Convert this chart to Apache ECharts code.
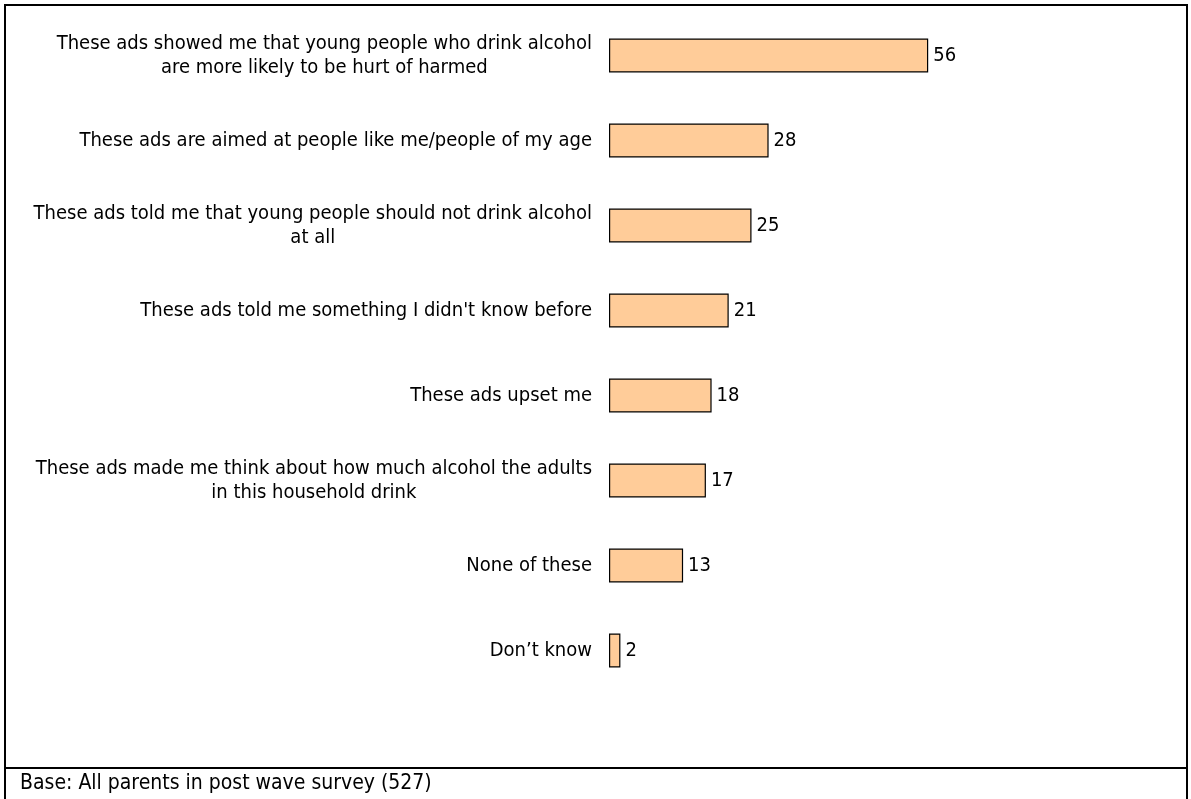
<!DOCTYPE html>
<html>
<head>
<meta charset="utf-8">
<script src="https://cdn.jsdelivr.net/npm/echarts@6/dist/echarts.min.js"></script>
<style>
  html, body { margin: 0; padding: 0; background: #fff; }
  #chart { width: 1191px; height: 799px; }
</style>
</head>
<body>
<div id="chart"></div>
<script>
// Statements shown to parents, top to bottom
const categories = [
  "These ads showed me that young people who drink alcohol\nare more likely to be hurt of harmed",
  "These ads are aimed at people like me/people of my age",
  "These ads told me that young people should not drink alcohol\nat all",
  "These ads told me something I didn't know before",
  "These ads upset me",
  "These ads made me think about how much alcohol the adults\nin this household drink",
  "None of these",
  "Don\u2019t know"
];
// Percentage agreeing with each statement
const values = [56, 28, 25, 21, 18, 17, 13, 2];
const footnote = "Base: All parents in post wave survey (527)";

const FONT = "'DejaVu Sans Condensed', 'DejaVu Sans', sans-serif";

const chart = echarts.init(document.getElementById('chart'), null, { renderer: 'canvas' });

chart.setOption({
  backgroundColor: '#ffffff',
  animation: false,
  grid: { left: 609, right: 12, top: 13, bottom: 106, containLabel: false },
  xAxis: {
    type: 'value',
    min: 0,
    max: 100,
    show: false
  },
  yAxis: {
    type: 'category',
    inverse: true,
    data: categories,
    axisLine: { show: false },
    axisTick: { show: false },
    splitLine: { show: false },
    axisLabel: {
      margin: 17,
      color: '#000',
      fontFamily: FONT,
      fontSize: 20,
      lineHeight: 24,
      // each line centred inside the right-aligned label block
      formatter: function (v) {
        return v.split('\n').map(function (l) { return '{c|' + l + '}'; }).join('\n');
      },
      rich: {
        c: { align: 'center', color: '#000', fontFamily: FONT, fontSize: 20, lineHeight: 24 }
      }
    }
  },
  series: [{
    type: 'bar',
    data: values,
    barWidth: 34,
    itemStyle: { color: '#FFCC99', borderColor: '#000', borderWidth: 1.2 },
    label: {
      show: true,
      position: 'right',
      distance: 5,
      color: '#000',
      fontFamily: FONT,
      fontSize: 20
    }
  }],
  graphic: [
    {
      type: 'rect',
      shape: { x: 5, y: 5, width: 1182, height: 800 },
      style: { fill: 'none', stroke: '#000', lineWidth: 2 },
      silent: true
    },
    {
      type: 'line',
      shape: { x1: 5, y1: 768, x2: 1187, y2: 768 },
      style: { stroke: '#000', lineWidth: 2 },
      silent: true
    },
    {
      type: 'text',
      x: 20,
      y: 784,
      style: {
        text: footnote,
        fill: '#000',
        font: "21px 'DejaVu Sans Condensed', 'DejaVu Sans', sans-serif",
        textVerticalAlign: 'middle',
        verticalAlign: 'middle'
      },
      silent: true
    }
  ]
});
</script>
</body>
</html>
